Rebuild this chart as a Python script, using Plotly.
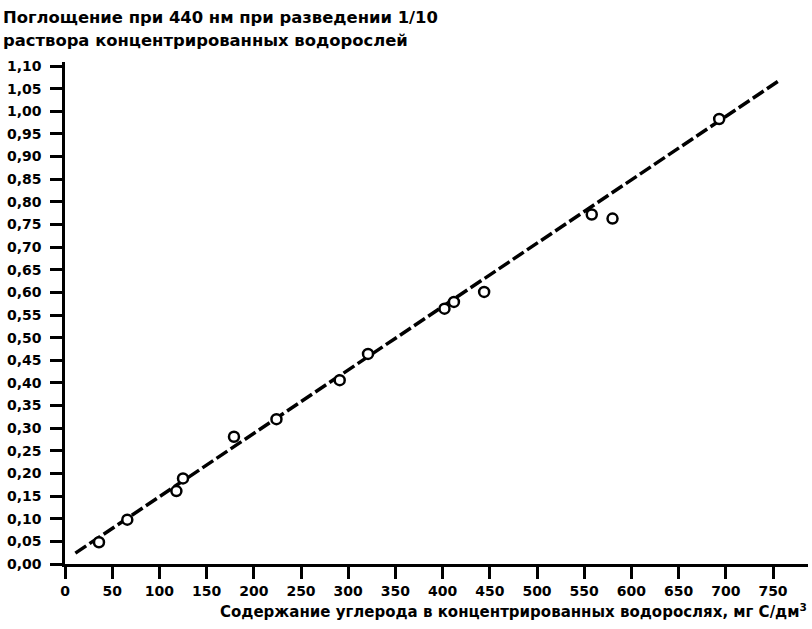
import plotly.graph_objects as go

# Data
carbon = [36, 66, 118, 125, 179, 224, 291, 321, 402, 412, 444, 558, 580, 693]
absorb = [0.048, 0.098, 0.161, 0.189, 0.281, 0.320, 0.406, 0.464, 0.564, 0.579, 0.601, 0.772, 0.763, 0.983]

fit_x = [11, 756]
fit_y = [0.024, 1.067]

x_tickvals = [0, 50, 100, 150, 200, 250, 300, 350, 400, 450, 500, 550, 600, 650, 700, 750]
x_ticktext = ["0", "50", "100", "150", "200", "250", "300", "350", "400", "450", "500",
              "550", "600", "650", "700", "750"]
y_tickvals = [0.00, 0.05, 0.10, 0.15, 0.20, 0.25, 0.30, 0.35, 0.40, 0.45, 0.50, 0.55,
              0.60, 0.65, 0.70, 0.75, 0.80, 0.85, 0.90, 0.95, 1.00, 1.05, 1.10]
y_ticktext = ["0,00", "0,05", "0,10", "0,15", "0,20", "0,25", "0,30", "0,35", "0,40",
              "0,45", "0,50", "0,55", "0,60", "0,65", "0,70", "0,75", "0,80", "0,85",
              "0,90", "0,95", "1,00", "1,05", "1,10"]

y_title_lines = ["Поглощение при 440 нм при разведении 1/10",
                 "раствора концентрированных водорослей"]
x_title = "Содержание углерода в концентрированных водорослях, мг С/дм<sup>3</sup>"

W, H = 812, 629
ML, MR, MT, MB = 65, 4, 62, 65
PW, PH = W - ML - MR, H - MT - MB
XPX = 0.944   # pixels per x unit
YPX = 452.7   # pixels per y unit

def px(xp):
    return (xp - ML) / PW

def py(yp):
    return (H - MB - yp) / PH

FONT = "DejaVu Sans, Liberation Sans, Arial, sans-serif"

fig = go.Figure()
fig.add_trace(go.Scatter(
    x=fit_x, y=fit_y, mode="lines",
    line=dict(color="black", width=3.5, dash="13px,4px"),
    hoverinfo="skip", showlegend=False,
))
fig.add_trace(go.Scatter(
    x=carbon, y=absorb, mode="markers",
    marker=dict(symbol="circle", size=10, color="white",
                line=dict(color="black", width=2.5)),
    showlegend=False,
))

fig.update_layout(
    width=W, height=H,
    margin=dict(l=ML, r=MR, t=MT, b=MB, pad=0),
    paper_bgcolor="white", plot_bgcolor="white",
    font=dict(family=FONT, color="black", size=14),
    xaxis=dict(
        range=[0, PW / XPX], showgrid=False, zeroline=False,
        showline=True, linecolor="black", linewidth=2.5,
        ticks="outside", ticklen=12, tickwidth=2.5, tickcolor="black",
        tickvals=x_tickvals, ticktext=["<b>%s</b>" % t for t in x_ticktext],
        tickfont=dict(family=FONT, size=14, color="black"),
        ticklabelstandoff=0,
    ),
    yaxis=dict(
        range=[0, PH / YPX], showgrid=False, zeroline=False,
        showline=True, linecolor="black", linewidth=2.5,
        ticks="outside", ticklen=12, tickwidth=2.5, tickcolor="black",
        tickvals=y_tickvals, ticktext=["<b>%s</b>" % t for t in y_ticktext],
        tickfont=dict(family=FONT, size=14, color="black"),
        ticklabelstandoff=6,
    ),
)

fig.add_annotation(
    xref="paper", yref="paper", x=px(1), y=py(17),
    xanchor="left", yanchor="middle", align="left", showarrow=False,
    text="<b>" + y_title_lines[0] + "</b>",
    font=dict(family=FONT, size=16.4, color="black"),
)
fig.add_annotation(
    xref="paper", yref="paper", x=px(1), y=py(40),
    xanchor="left", yanchor="middle", align="left", showarrow=False,
    text="<b>" + y_title_lines[1] + "</b>",
    font=dict(family=FONT, size=16.4, color="black"),
)
fig.add_annotation(
    xref="paper", yref="paper", x=px(809), y=py(611),
    xanchor="right", yanchor="middle", align="right", showarrow=False,
    text="<b>" + x_title + "</b>",
    font=dict(family=FONT, size=15, color="black"),
)

fig.write_html("out.html", config={"displayModeBar": False},
               post_script="document.body.style.margin='0';")
